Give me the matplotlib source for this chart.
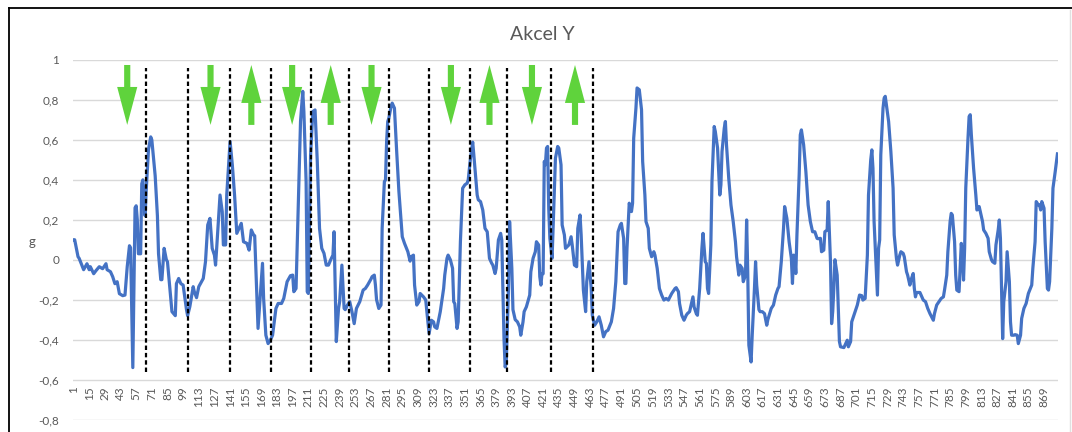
import numpy as np
import matplotlib
matplotlib.use("Agg")
import matplotlib.pyplot as plt
from matplotlib.patches import FancyArrow
from matplotlib.lines import Line2D

# 1. Données (indice d'échantillon, accélération en g)
idx = [1, 2, 5, 6, 10, 13, 15, 16, 19, 21, 24, 27, 30, 31, 34, 36, 38, 40, 42, 45,
       47, 49, 51, 52, 54, 56, 57, 58, 59, 61, 62, 63, 64, 65, 66, 68, 70, 71, 74, 76,
       77, 79, 80, 82, 84, 85, 88, 89, 92, 93, 95, 97, 99, 102, 103, 105, 108, 109, 111, 113,
       117, 119, 121, 123, 125, 127, 128, 129, 132, 134, 135, 137, 138, 141, 143, 145, 147, 149, 151, 153,
       156, 158, 160, 162, 163, 166, 170, 171, 173, 175, 177, 179, 182, 184, 187, 189, 192, 195, 197, 198,
       200, 202, 204, 206, 207, 209, 210, 211, 213, 215, 217, 219, 221, 223, 225, 227, 229, 231, 233, 234,
       236, 238, 239, 241, 243, 244, 246, 248, 250, 252, 254, 257, 260, 262, 264, 267, 268, 270, 271, 272,
       274, 276, 277, 279, 280, 281, 282, 283, 285, 286, 288, 290, 292, 295, 297, 300, 302, 303, 305, 306,
       308, 310, 311, 314, 316, 317, 319, 321, 323, 324, 326, 329, 332, 333, 335, 336, 338, 340, 341, 342,
       344, 345, 347, 349, 351, 353, 354, 356, 358, 359, 362, 363, 365, 367, 369, 371,
       373, 375, 376, 378, 379, 381, 383, 384, 386, 387, 388, 390, 391, 393, 394, 396, 398, 400, 401, 403,
       404, 406, 409, 410, 412, 414, 415, 417, 418, 419, 420, 421, 422, 423, 424, 425, 426, 427, 429, 432,
       434, 435, 437, 438, 440, 441, 444, 446, 447, 449, 451, 452, 454, 455, 457, 459, 460, 462, 464, 465,
       467, 469, 471, 473, 475, 477, 479, 482, 484, 486, 488, 490, 491, 493, 494, 495, 496, 498,
       500, 501, 502, 504, 505, 507, 509, 510, 512, 513, 515, 516, 518, 520, 521, 523, 525, 527, 529, 531,
       533, 536, 539, 540, 542, 543, 545, 547, 549, 550, 552, 554, 555, 556, 558, 559, 561, 563, 564, 566,
       567, 568, 569, 571, 572, 574, 575, 577, 579, 580, 581, 583, 584, 585, 587, 589, 591, 593, 594, 596,
       597, 599, 600, 602, 603, 604, 605, 607, 608, 610, 611, 612, 614, 615, 617, 619, 621, 622, 625, 627,
       629, 631, 632, 634, 636, 637, 639, 641, 643, 644, 645, 646, 647, 648, 650, 651, 652, 654, 656, 658,
       660, 662, 664, 666, 667, 669, 670, 672, 673, 675, 676, 678, 679, 680, 681, 682, 684, 685, 686, 687,
       690, 691, 693, 694, 696, 697, 699, 702, 704, 706, 707, 709, 711, 712, 714, 715, 716, 717, 719, 720,
       721, 722, 723, 725, 726, 727, 729, 730, 732, 734, 735, 737, 738, 740, 741, 743, 744, 746, 747, 749,
       750, 752, 753, 754, 755, 758, 759, 761, 763, 765, 767, 770, 771, 773, 775, 777, 779, 780, 782, 783,
       785, 786, 787, 789, 790, 791, 793, 794, 795, 796, 797, 798, 799, 801, 802, 803, 804, 806, 808, 809,
       811, 812, 814, 815, 817, 819, 820, 822, 823, 825, 826, 828, 829, 830, 831, 832, 833, 835, 836, 838,
       839, 840, 842, 843, 845, 846, 848, 849, 851, 853, 855, 858, 859, 861, 862, 864, 865, 866, 867, 869,
       870, 872, 873, 874, 876, 877, 879, 881]

akcel_y = [0.10, 0.10, 0.015, 0.007, -0.05, -0.02, -0.05, -0.035, -0.07, -0.055, -0.035, -0.045, -0.02, -0.05, -0.06, -0.085, -0.12, -0.11, -0.17, -0.18,
           -0.177, -0.035, 0.07, 0.06, -0.54, 0.26, 0.27, 0.2, 0.03, 0.03, 0.38, 0.40, 0.3, 0.22, 0.35, 0.55, 0.615, 0.6, 0.42, 0.22,
           0.03, -0.10, -0.10, 0.057, 0.0, -0.01, -0.2, -0.26, -0.28, -0.12, -0.094, -0.12, -0.127, -0.25, -0.28, -0.235, -0.135, -0.16, -0.19, -0.135,
           -0.094, -0.01, 0.174, 0.207, 0.057, 0.023, -0.027, 0.057, 0.324, 0.24, 0.074, 0.074, 0.324, 0.592, 0.475, 0.324, 0.132, 0.157, 0.182, 0.09,
           0.082, 0.048, 0.149, 0.124, 0.12, -0.344, -0.018, -0.194, -0.378, -0.42, -0.403, -0.378, -0.244, -0.219, -0.219, -0.194, -0.11, -0.08, -0.077, -0.16,
           -0.144, 0.274, 0.692, 0.843, 0.742, 0.391, -0.16, -0.169, 0.525, 0.742, 0.75, 0.49, 0.157, 0.057, 0.032, -0.027, -0.027, 0.0, 0.023, 0.14,
           -0.41, -0.244, -0.21, -0.027, -0.244, -0.25, -0.227, -0.21, -0.26, -0.32, -0.244, -0.21, -0.152, -0.144, -0.127, -0.097, -0.085, -0.077, -0.127, -0.2,
           -0.244, -0.227, 0.157, 0.391, 0.4, 0.592, 0.692, 0.709, 0.768, 0.784, 0.759, 0.542, 0.341, 0.115, 0.082, 0.04, -0.007, 0.015, 0.023, -0.127,
           -0.227, -0.21, -0.169, -0.186, -0.202, -0.26, -0.37, -0.303, -0.311, -0.336, -0.344, -0.26, -0.144, -0.077, 0.007, 0.023, 0.0, -0.043, -0.21, -0.22,
           -0.344, -0.311, 0.09, 0.358, 0.375, 0.383, 0.4, 0.508, 0.589, 0.525, 0.324, 0.3, 0.291, 0.249, 0.157, 0.14,
           0.007, -0.018, -0.027, -0.069, -0.043, 0.099, 0.132, 0.099, -0.395, -0.537, -0.52, -0.144, 0.191, -0.043, -0.25, -0.3, -0.311, -0.336, -0.378, -0.311,
           -0.26, -0.236, -0.177, -0.06, 0.007, 0.04, 0.09, 0.074, -0.085, -0.127, -0.069, -0.07, 0.492, 0.475, 0.559, 0.567, 0.258, 0.107, 0.007, 0.508,
           0.567, 0.559, 0.475, 0.174, 0.124, 0.057, 0.074, 0.115, 0.074, -0.027, -0.035, 0.157, 0.224, 0.124, -0.152, -0.26, -0.11, -0.01, -0.144, -0.278,
           -0.328, -0.311, -0.286, -0.328, -0.386, -0.36, -0.353, -0.311, -0.244, -0.11, 0.14, 0.174, 0.182, 0.107, -0.119, -0.119, 0.057, 0.283,
           0.241, 0.283, 0.609, 0.759, 0.86, 0.851, 0.751, 0.492, 0.324, 0.191, 0.157, 0.057, 0.015, 0.04, 0.023, -0.043, -0.144, -0.177, -0.202, -0.194,
           -0.202, -0.169, -0.144, -0.14, -0.16, -0.219, -0.278, -0.303, -0.278, -0.27, -0.26, -0.21, -0.186, -0.236, -0.27, -0.278, -0.144, 0.057, 0.132, -0.01,
           -0.018, -0.144, -0.169, 0.074, 0.391, 0.667, 0.642, 0.559, 0.324, 0.375, 0.542, 0.659, 0.692, 0.575, 0.408, 0.274, 0.191, 0.09, 0.015, -0.077,
           -0.027, -0.043, -0.11, -0.077, 0.199, -0.06, -0.428, -0.512, -0.378, -0.144, -0.01, -0.127, -0.25, -0.26, -0.26, -0.27, -0.328, -0.3, -0.244, -0.227,
           -0.177, -0.144, -0.135, -0.01, 0.157, 0.266, 0.207, 0.09, 0.007, -0.119, 0.023, 0.02, -0.069, 0.124, 0.425, 0.625, 0.65, 0.575, 0.441, 0.274,
           0.191, 0.14, 0.14, 0.107, 0.105, 0.107, 0.04, 0.048, 0.14, 0.149, 0.291, -0.01, -0.32, -0.26, -0.144, 0.0, -0.077, -0.244, -0.41, -0.436,
           -0.44, -0.428, -0.403, -0.436, -0.41, -0.311, -0.278, -0.227, -0.177, -0.18, -0.202, -0.194, 0.023, 0.324, 0.5, 0.55, 0.458, 0.191, -0.06, -0.177,
           0.057, 0.099, 0.525, 0.759, 0.809, 0.818, 0.734, 0.692, 0.542, 0.358, 0.124, 0.007, -0.027, 0.023, 0.04, 0.032, 0.015, -0.06, -0.077, -0.127,
           -0.102, -0.069, -0.144, -0.186, -0.164, -0.164, -0.177, -0.202, -0.21, -0.244, -0.27, -0.303, -0.27, -0.227, -0.21, -0.194, -0.186, -0.152, -0.077, 0.04,
           0.191, 0.232, 0.224, 0.09, -0.077, -0.152, -0.16, -0.043, 0.082, 0.023, -0.102, 0.057, 0.358, 0.609, 0.717, 0.726, 0.625, 0.458, 0.324, 0.249,
           0.266, 0.241, 0.191, 0.149, 0.132, 0.107, 0.04, 0.0, -0.01, -0.018, 0.074, 0.149, 0.199, 0.107, -0.144, -0.395, -0.21, -0.11, 0.04, -0.11,
           -0.311, -0.378, -0.378, -0.375, -0.378, -0.42, -0.378, -0.294, -0.244, -0.219, -0.169, -0.127, -0.043, 0.09, 0.291, 0.274, 0.274, 0.249, 0.291, 0.258,
           0.09, -0.144, -0.152, -0.11, 0.157, 0.358, 0.441, 0.53]

n_samples = 881
tick_idx = list(range(1, n_samples + 1, 14))
y_ticks = [-0.8, -0.6, -0.4, -0.2, 0, 0.2, 0.4, 0.6, 0.8, 1]

# Repères : lignes pointillées et flèches (bas = -1, haut = +1)
split_idx = [66, 103, 141, 178, 213, 247.5, 283, 319, 355.5, 389, 428, 465.5]
arrow_idx = [49, 123.5, 160, 196.5, 231, 267.5, 338.5, 373, 411, 449.5]
arrow_dir = [-1, -1, 1, -1, 1, -1, -1, 1, -1, 1]

# 2. Figure
plt.rcParams['font.family'] = ['Lato', 'DejaVu Sans']
W, H = 1072, 432
fig = plt.figure(figsize=(W / 100, H / 100), dpi=100)
ax = fig.add_axes([73 / W, 1 - 419.5 / H, (1058 - 73) / W, (419.5 - 60) / H])

gray_txt = '#595959'
ax.plot(idx, akcel_y, color='#4472C4', linewidth=2.3, solid_joinstyle='round', zorder=3)

# l'axe des abscisses croise à -0,6 (avant de régler les graduations)
for s in ax.spines.values():
    s.set_visible(False)
ax.spines['bottom'].set_position(('data', -0.6))

ax.set_xlim(0.5, n_samples + 0.5)
ax.set_ylim(-0.8, 1.0)
ax.set_yticks(y_ticks)
ax.set_yticklabels([f"{v:g}".replace('.', ',') for v in y_ticks])
ax.set_xticks(tick_idx)
ax.set_xticklabels([str(t) for t in tick_idx])
ax.grid(axis='y', color='#D9D9D9', linewidth=1)
ax.set_axisbelow(True)
ax.tick_params(axis='both', length=0, labelsize=8.5, labelcolor=gray_txt)
ax.tick_params(axis='y', pad=10)
ax.tick_params(axis='x', pad=5, labelrotation=90)

# 3. Lignes pointillées
ax.vlines(split_idx, -0.563, 0.962, colors='black', linewidth=1.6,
          linestyles=(0, (2, 1.3)), zorder=4)

# 4. Flèches vertes
top_y, bot_y = 0.975, 0.675
for x, d in zip(arrow_idx, arrow_dir):
    start = bot_y if d > 0 else top_y
    ax.add_patch(FancyArrow(x, start, 0, d * (top_y - bot_y), width=5.5,
                            head_width=18, head_length=0.19,
                            length_includes_head=True, color='#5FD33C',
                            linewidth=0, zorder=5))

# 5. Titres et cadre
fig.text(542 / W, 1 - 34 / H, 'Akcel Y', ha='center', va='center',
         fontsize=14, color=gray_txt)
fig.text(32 / W, 1 - 242 / H, 'g', ha='center', va='center',
         fontsize=9.5, color=gray_txt)
fig.add_artist(Line2D([9 / W, 1], [1 - 8 / H, 1 - 8 / H], color='black', linewidth=1.3))
fig.add_artist(Line2D([9 / W, 9 / W], [0, 1 - 8 / H], color='black', linewidth=1.3))
fig.add_artist(Line2D([1070 / W, 1070 / W], [0, 1 - 10 / H], color='#E0E0E0', linewidth=1))

fig.savefig('out.png', dpi=100, facecolor='white')
